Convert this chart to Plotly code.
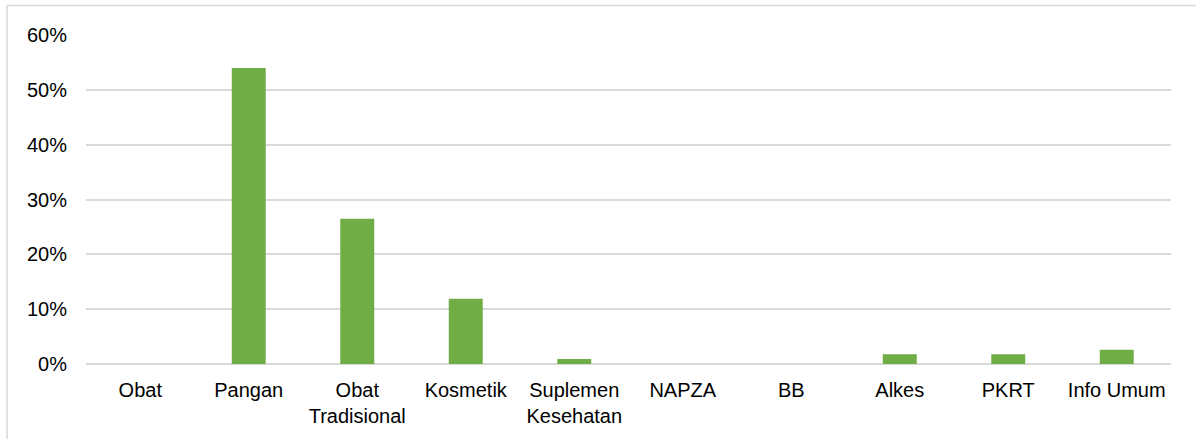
import plotly.graph_objects as go

categories = ["Obat", "Pangan", "Obat<br>Tradisional", "Kosmetik", "Suplemen<br>Kesehatan",
              "NAPZA", "BB", "Alkes", "PKRT", "Info Umum"]
values = [0.0, 0.540, 0.265, 0.119, 0.009, 0.0, 0.0, 0.018, 0.018, 0.026]
y_ticks = [0, 0.1, 0.2, 0.3, 0.4, 0.5, 0.6]

W, H = 1196, 439
L, R, T, B = 86, 25, 35, 75
pw, ph = W - L - R, H - T - B

fig = go.Figure(go.Bar(x=categories, y=values, marker=dict(color="#70AD47", line=dict(width=0)),
                       hoverinfo="x+y"))

font = dict(family="Liberation Sans, Arial, sans-serif", size=20, color="#000000")

fig.update_layout(
    width=W, height=H,
    margin=dict(l=L, r=R, t=T, b=B, pad=0),
    paper_bgcolor="white", plot_bgcolor="white",
    bargap=0.687,
    showlegend=False,
    font=font,
    xaxis=dict(showgrid=False, showline=False, zeroline=False, ticks="",
               tickfont=font, ticklabelstandoff=12),
    yaxis=dict(range=[0, 0.6], tickvals=y_ticks, tickformat=".0%",
               showgrid=True, gridcolor="#D9D9D9", gridwidth=1.5,
               zeroline=True, zerolinecolor="#D9D9D9", zerolinewidth=1.5,
               showline=False, ticks="", tickfont=font, ticklabelstandoff=18),
)

# outer chart border (top and left visible)
x_left = (7 - L) / pw
y_top = 1 + (T - 5.5) / ph
y_bot = -(H + 5 - (H - B)) / ph
fig.add_shape(type="line", xref="paper", yref="paper", x0=x_left, x1=1 + (R + 10) / pw,
              y0=y_top, y1=y_top, line=dict(color="#D9D9D9", width=1.5))
fig.add_shape(type="line", xref="paper", yref="paper", x0=x_left, x1=x_left,
              y0=y_top, y1=y_bot, line=dict(color="#D9D9D9", width=1.5))

fig.write_html("out.html")
